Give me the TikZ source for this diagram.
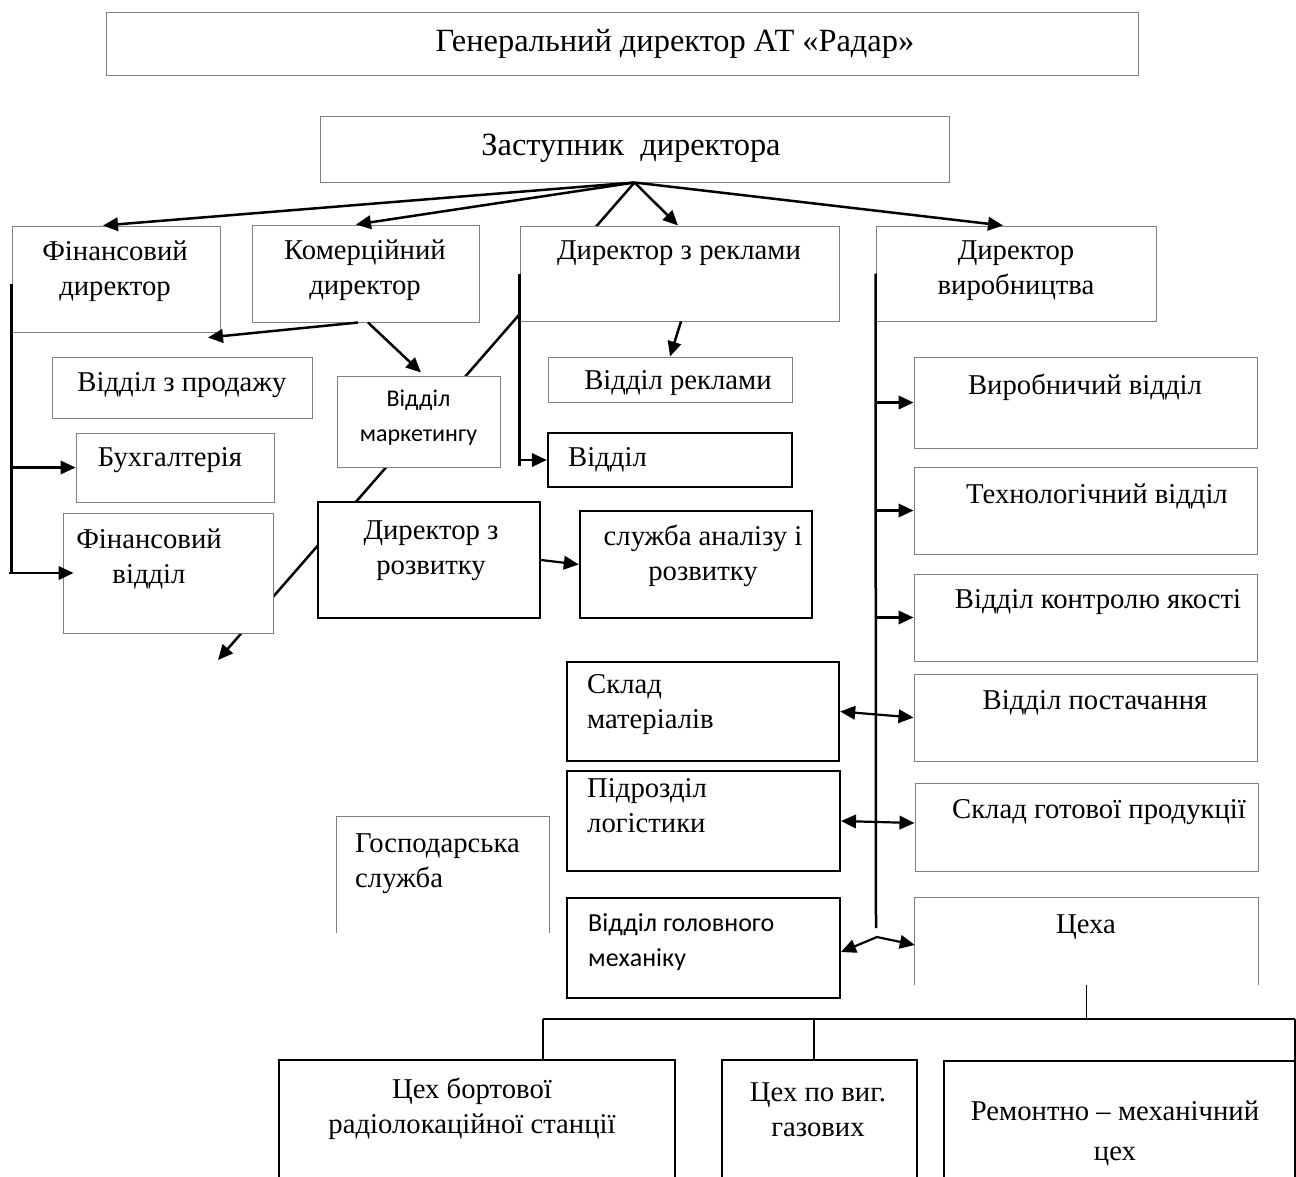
\documentclass[tikz,border=0pt]{standalone}
\usepackage{fontspec}
\setmainfont{Liberation Serif}
\newfontfamily\calibfont{Carlito}
\usetikzlibrary{arrows.meta,fit}
\pgfdeclarelayer{bg}
\pgfsetlayers{bg,main}
\begin{document}
\begin{tikzpicture}[x=1pt,y=-1pt,
  gbox/.style={draw=black!50, line width=1pt, fill=white, inner sep=0pt},
  kbox/.style={draw=black, line width=2.4pt, fill=white, inner sep=0pt},
  mbox/.style={draw=black, line width=2pt, fill=white, inner sep=0pt},
  obox/.style={fill=white, inner sep=0pt},
  gedge/.style={draw=black!50, line width=1pt},
  txt/.style={inner sep=0pt, font=\fontsize{28.7pt}{35pt}\selectfont, align=center},
  ltxt/.style={inner sep=0pt, font=\fontsize{28.7pt}{35pt}\selectfont, align=left, anchor=west},
  ctxt/.style={inner sep=0pt, font=\calibfont\fontsize{24pt}{35pt}\selectfont},
  tip/.tip={Triangle[length=15pt,width=13.5pt]},
  conn/.style={line width=2.5pt, -tip},
  branch/.style={line width=2.2pt, -tip},
  bconn/.style={line width=2.2pt, tip-tip},
  plainline/.style={line width=2.5pt},
  tree/.style={line width=1.6pt}
]
\useasboundingbox (0,0) rectangle (1296,1176);

% boxes
\node[gbox, fit={(106,12) (1138,75)}] (gen) {};
\node[gbox, fit={(320,116) (949,182)}] (zast) {};
\node[gbox, fit={(12,226) (220,332)}] (findir) {};
\node[gbox, fit={(252,225) (479,322)}] (kom) {};
\node[gbox, fit={(520,226) (839,321)}] (dirrekl) {};
\node[gbox, fit={(876,226) (1156,321)}] (dirvyr) {};
\node[gbox, fit={(52,357) (312,418)}] (prod) {};
\node[gbox, fit={(337,376) (500,467)}] (mark) {};
\node[gbox, fit={(548,357) (792,402)}] (rekl) {};
\node[gbox, fit={(76,433) (274,502)}] (buh) {};
\node[kbox, fit={(548,433) (792,487)}] (viddil) {};
\node[gbox, fit={(63,513) (273,633)}] (finvid) {};
\node[kbox, fit={(318,502) (540,618)}] (rozv) {};
\node[kbox, fit={(580,511) (812,618)}] (anal) {};
\node[gbox, fit={(914,357) (1257,448)}] (vyrob) {};
\node[gbox, fit={(914,467) (1257,554)}] (tekhn) {};
\node[gbox, fit={(914,574) (1257,661)}] (kontr) {};
\node[gbox, fit={(914,674) (1257,761)}] (postach) {};
\node[gbox, fit={(915,783) (1258,871)}] (sklgot) {};
\node[obox, fit={(915,898) (1258,985)}] (tsekha) {};
\draw[gedge] (tsekha.south west) |- (tsekha.north east) -- (tsekha.south east);
\node[kbox, fit={(567,662) (839,761)}] (sklmat) {};
\node[mbox, fit={(567,771) (840,871)}] (pidr) {};
\node[mbox, fit={(567,898) (840,998)}] (mekh) {};
\node[obox, fit={(337,817) (549,933)}] (hosp) {};
\draw[gedge] (hosp.south west) |- (hosp.north east) -- (hosp.south east);
\node[mbox, fit={(279,1060) (675,1195)}] (c1) {};
\node[mbox, fit={(722,1060) (917,1195)}] (c2) {};
\node[mbox, fit={(944,1061) (1295,1195)}] (c3) {};

% texts
\node[txt, font=\fontsize{32.4pt}{38pt}\selectfont] (t-gen) at (675,44) {Генеральний директор АТ «Радар»};
\node[txt, font=\fontsize{32.4pt}{38pt}\selectfont] (t-zast) at (631,148) {Заступник\enspace директора};
\node[txt] (t-findir) at (115,271) {Фінансовий\\директор};
\node[txt] (t-kom) at (365,270) {Комерційний\\директор};
\node[txt] (t-dirrekl) at (679,253) {Директор з реклами};
\node[txt] (t-dirvyr) at (1016,271) {Директор\\виробництва};
\node[txt] (t-prod) at (182,385) {Відділ з продажу};
\node[ctxt, align=center] (t-mark) at (418.5,418) {Відділ\\маркетингу};
\node[txt] (t-rekl) at (678,383) {Відділ реклами};
\node[txt] (t-buh) at (170,460) {Бухгалтерія};
\node[ltxt] (t-viddil) at (568,460) {Відділ};
\node[txt] (t-finvid) at (149,559) {Фінансовий\\відділ};
\node[txt] (t-rozv) at (431,551) {Директор з\\розвитку};
\node[txt] (t-anal) at (703,556) {служба аналізу і\\розвитку};
\node[txt] (t-vyrob) at (1085,387) {Виробничий відділ};
\node[txt] (t-tekhn) at (1097,496) {Технологічний відділ};
\node[txt] (t-kontr) at (1098,602) {Відділ контролю якості};
\node[txt] (t-postach) at (1095,703) {Відділ постачання};
\node[txt] (t-sklgot) at (1099,812) {Склад готової продукції};
\node[txt] (t-tsekha) at (1086,927) {Цеха};
\node[ltxt] (t-sklmat) at (587,705) {Склад\\матеріалів};
\node[ltxt] (t-pidr) at (587,806) {Підрозділ\\логістики};
\node[ctxt, font=\calibfont\fontsize{26pt}{35pt}\selectfont, align=left, anchor=west] (t-mekh) at (588,942) {Відділ головного\\механіку};
\node[ltxt] (t-hosp) at (355,864) {Господарська\\служба};
\node[txt] (t-c1) at (472,1109) {Цех бортової\\радіолокаційної станції};
\node[txt] (t-c2) at (818,1110) {Цех по виг.\\газових};
\node[txt, font=\fontsize{28.7pt}{40pt}\selectfont] (t-c3) at (1115,1133) {Ремонтно – механічний\\цех};

% long diagonal passing behind boxes
\coordinate (diagend) at (218,660);
\begin{pgfonlayer}{bg}
\draw[conn] (zast.south) -- (diagend);
\end{pgfonlayer}

% from deputy director
\draw[conn] (zast.south) -- ([xshift=-13pt]findir.north);
\draw[conn] (zast.south) -- ([xshift=-9.5pt]kom.north);
\draw[conn] (zast.south) -- ([xshift=-1.5pt]dirrekl.north);
\draw[conn] (zast.south) -- ([xshift=-13pt]dirvyr.north);

% financial director bus
\draw[plainline] ([yshift=-5pt]findir.west) -- (findir.west |- finvid.west);
\draw[branch] (findir.west |- buh.west) -- (buh.west);
\draw[branch] ([xshift=-3pt]findir.west |- finvid.west) -- ([xshift=11pt]finvid.west);

% commercial director
\draw[conn] ([xshift=-7.5pt]kom.south) -- ([xshift=26pt,yshift=19pt]prod.north);
\draw[conn] ([xshift=2.5pt]kom.south) -- ([xshift=2.5pt,yshift=3pt]mark.north);

% advertising director
\draw[conn] ([xshift=1.5pt]dirrekl.south) -- (rekl.north);
\draw[plainline] (dirrekl.west) -- ([yshift=-6pt]dirrekl.west |- viddil.west);
\draw[branch] (dirrekl.west |- viddil.west) -- (viddil.west);

% development director
\draw[branch] (rozv.east) -- (anal.west);

% production director bus
\coordinate (busend) at (876,928);
\coordinate (peak) at (877,937);
\draw[plainline] (dirvyr.west) -- (busend);
\draw[branch] (dirvyr.west |- vyrob.west) -- (vyrob.west);
\draw[branch] (dirvyr.west |- tekhn.west) -- (tekhn.west);
\draw[branch] (dirvyr.west |- kontr.west) -- (kontr.west);
\draw[bconn] (sklmat.east) -- (postach.west);
\draw[bconn] (pidr.east) -- ([yshift=4pt]sklgot.west);
\draw[bconn] ([yshift=-4pt]mekh.east) -- (peak) -- ([yshift=-3.5pt]tsekha.west);

% workshops tree
\coordinate (dl) at (543,1019);
\coordinate (dm) at (814,1019);
\coordinate (dr) at (1295,1019);
\draw[tree] (tsekha.south) -- (tsekha.south |- dl);
\draw[tree] (dl) -- (dr);
\draw[tree] (dl) -- (dl |- c1.north);
\draw[tree] (dm) -- (dm |- c2.north);
\draw[tree] (dr) -- (dr |- c3.north);
\end{tikzpicture}
\end{document}
